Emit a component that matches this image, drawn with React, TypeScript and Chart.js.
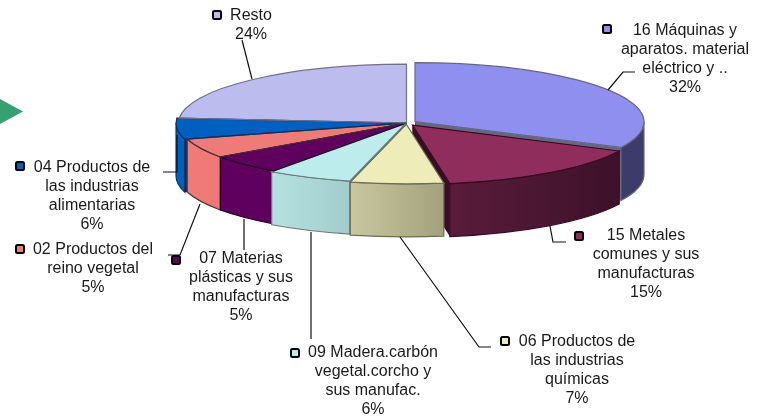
import React, { useEffect, useRef } from "react";
import { Chart, registerables } from "chart.js";

Chart.register(...registerables);

const categories = [
  "16 Máquinas y aparatos. material eléctrico y ..",
  "15 Metales comunes y sus manufacturas",
  "06 Productos de las industrias químicas",
  "09 Madera.carbón vegetal.corcho y sus manufac.",
  "07 Materias plásticas y sus manufacturas",
  "02 Productos del reino vegetal",
  "04 Productos de las industrias alimentarias",
  "Resto",
];
// Shares read from the slice edges; the picture prints them rounded to whole percents.
const values = [32.2, 15.2, 6.5, 6.0, 5.3, 5.4, 5.7, 23.7];
const labelLines = [
  ["16 Máquinas y", "aparatos. material", "eléctrico y .."],
  ["15 Metales", "comunes y sus", "manufacturas"],
  ["06 Productos de", "las industrias", "químicas"],
  ["09 Madera.carbón", "vegetal.corcho y", "sus manufac."],
  ["07 Materias", "plásticas y sus", "manufacturas"],
  ["02 Productos del", "reino vegetal"],
  ["04 Productos de", "las industrias", "alimentarias"],
  ["Resto"],
];
const topColors = ["#8f8fef", "#8f2d5d", "#eeedb9", "#bcecec", "#5f005f", "#ef7b78", "#005fbf", "#bcbcee"];
const wallLeft = ["#403f70", "#5a1c3c", "#c8c79e", "#b5e2e1", "#5f005f", "#ef7b78", "#005fbf", "#8080a0"];
const wallRight = ["#3c3b6a", "#3d1128", "#a2a17c", "#a1cccc", "#5f005f", "#ee7876", "#005fbf", "#8080a0"];
const edgeColors = ["#666680", "#3a0c24", "#6c6c58", "#6a7c7c", "#220022", "#4a3434", "#003366", "#707088"];
const explode = [40, 40, 20, 10, 0, 0, 6, 0];

// layout of the annotations
const labelCenterX = [685, 646, 577, 373, 241, 93, 92, 251];
const labelTopY = [31, 236, 342, 353, 259, 250, 168, 16];
const markerPos = [[607, 29], [579, 236], [505, 341], [295, 353], [176, 260], [20, 249], [20, 166], [217, 15]];
const leaders = [
  [[635, 72], [623, 72], [608, 90]],
  [[566, 242], [553, 242], [550, 226]],
  [[491, 347], [479, 347], [400, 237]],
  [[311, 339], [311, 232]],
  [[244, 250], [244, 219]],
  [[168, 255], [180, 255], [200, 204]],
  [[163, 172], [177, 172], [177, 135]],
  [[242, 40], [252, 79]],
];

const RADIUS = 228;
const SQUASH = 0.258;
const DEPTH = 53;
const LINE_H = 18.7;

type Geo = { i: number; ax: number; ay: number; a0: number; a1: number; r: number; half: number };

function geometry(chart: any): Geo[] {
  const arcs = chart.getDatasetMeta(0).data;
  return arcs.map((arc: any, i: number) => {
    const p = arc.getProps(["x", "y", "startAngle", "endAngle", "outerRadius"], true);
    const half = (p.startAngle + p.endAngle) / 2;
    const off = explode[i] / 4;
    const fix = 1 - Math.sin(Math.min(Math.PI, p.endAngle - p.startAngle));
    return {
      i,
      half,
      a0: p.startAngle,
      a1: p.endAngle,
      r: p.outerRadius + off * fix,
      ax: p.x + Math.cos(half) * off,
      ay: p.y + Math.sin(half) * off * SQUASH,
    };
  });
}

const pt = (g: Geo, a: number): [number, number] => [
  g.ax + g.r * Math.cos(a),
  g.ay + g.r * SQUASH * Math.sin(a),
];

function drawWalls(ctx: CanvasRenderingContext2D, geos: Geo[]) {
  const ordered = [...geos].sort((p, q) => Math.sin(p.half) - Math.sin(q.half));
  for (const g of ordered) {
    const x0 = g.ax + g.r * Math.min(Math.cos(g.a0), Math.cos(g.a1));
    const x1 = g.ax + g.r * Math.max(Math.cos(g.a0), Math.cos(g.a1));
    const grad = ctx.createLinearGradient(x0, 0, Math.max(x1, x0 + 1), 0);
    grad.addColorStop(0, wallLeft[g.i]);
    grad.addColorStop(1, wallRight[g.i]);
    ctx.strokeStyle = edgeColors[g.i];
    ctx.lineWidth = 1.2;
    // radial cut faces
    for (const a of [g.a0, g.a1]) {
      const p = pt(g, a);
      ctx.beginPath();
      ctx.moveTo(g.ax, g.ay);
      ctx.lineTo(p[0], p[1]);
      ctx.lineTo(p[0], p[1] + DEPTH);
      ctx.lineTo(g.ax, g.ay + DEPTH);
      ctx.closePath();
      ctx.fillStyle = edgeColors[g.i];
      ctx.fill();
    }
    ctx.fillStyle = grad;
    // outer curved wall, only the part that faces the viewer
    const TAU = Math.PI * 2;
    for (const shift of [0, -TAU, TAU]) {
      const s = Math.max(g.a0 + shift, 0);
      const e = Math.min(g.a1 + shift, Math.PI);
      if (e <= s) continue;
      ctx.beginPath();
      ctx.ellipse(g.ax, g.ay, g.r, g.r * SQUASH, 0, s, e, false);
      ctx.ellipse(g.ax, g.ay + DEPTH, g.r, g.r * SQUASH, 0, e, s, true);
      ctx.closePath();
      ctx.fill();
      ctx.stroke();
    }
  }
}

function drawOutlines(ctx: CanvasRenderingContext2D, geos: Geo[]) {
  for (const g of geos) {
    ctx.beginPath();
    ctx.moveTo(g.ax, g.ay);
    ctx.ellipse(g.ax, g.ay, g.r, g.r * SQUASH, 0, g.a0, g.a1, false);
    ctx.closePath();
    ctx.strokeStyle = edgeColors[g.i];
    ctx.lineWidth = 1.2;
    ctx.stroke();
  }
}

function drawAnnotations(ctx: CanvasRenderingContext2D) {
  ctx.save();
  ctx.strokeStyle = "#111";
  ctx.lineWidth = 1.2;
  for (const line of leaders) {
    ctx.beginPath();
    line.forEach(([x, y], k) => (k ? ctx.lineTo(x, y) : ctx.moveTo(x, y)));
    ctx.stroke();
  }
  ctx.font = '16px "Liberation Sans", Arial, sans-serif';
  ctx.textAlign = "center";
  ctx.textBaseline = "middle";
  labelLines.forEach((lines, i) => {
    const all = [...lines, `${Math.round(values[i])}%`];
    ctx.fillStyle = "#1a1a1a";
    all.forEach((t, k) => ctx.fillText(t, labelCenterX[i], labelTopY[i] + k * LINE_H));
    const [mx, my] = markerPos[i];
    ctx.fillStyle = topColors[i];
    ctx.strokeStyle = "#000";
    ctx.lineWidth = 2;
    ctx.beginPath();
    ctx.roundRect(mx - 4, my - 4, 8, 8, 1.5);
    ctx.fill();
    ctx.stroke();
  });
  ctx.restore();
}

const pie3d = {
  id: "pie3d",
  beforeDatasetDraw(chart: any) {
    const ctx = chart.ctx;
    drawWalls(ctx, geometry(chart));
    const first = chart.getDatasetMeta(0).data[0];
    ctx.save();
    ctx.translate(0, first.y);
    ctx.scale(1, SQUASH);
    ctx.translate(0, -first.y);
  },
  afterDatasetDraw(chart: any) {
    const ctx = chart.ctx;
    ctx.restore();
    drawOutlines(ctx, geometry(chart));
    drawAnnotations(ctx);
  },
};

export default function App() {
  const ref = useRef<HTMLCanvasElement>(null);
  useEffect(() => {
    const chart = new Chart(ref.current!, {
      type: "pie",
      data: {
        labels: categories,
        datasets: [
          {
            data: values,
            backgroundColor: topColors,
            borderWidth: 0,
            offset: explode,
            radius: RADIUS,
            clip: false,
          } as any,
        ],
      },
      options: {
        responsive: false,
        animation: false,
        layout: { padding: { left: 47, bottom: 174 } },
        plugins: { legend: { display: false }, tooltip: { enabled: false } },
      },
      plugins: [pie3d],
    } as any);
    return () => chart.destroy();
  }, []);
  return (
    <div style={{ position: "absolute", left: 0, top: 0, width: 766, height: 420, background: "#fff", overflow: "hidden" }}>
      <canvas ref={ref} width={766} height={420} style={{ display: "block", filter: "blur(0.35px)" }} />
      <div
        style={{
          position: "absolute",
          left: 0,
          top: 99,
          width: 23,
          height: 25,
          background: "#36a06e",
          clipPath: "polygon(0 0, 100% 50%, 0 100%)",
        }}
      />
    </div>
  );
}
